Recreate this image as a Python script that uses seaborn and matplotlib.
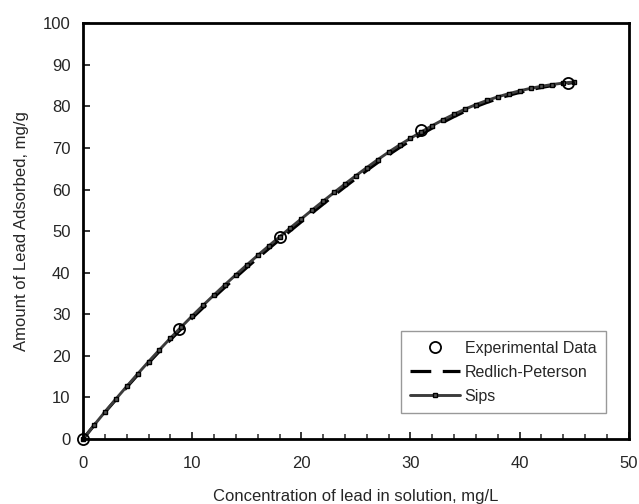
import numpy as np
import pandas as pd
import matplotlib
matplotlib.use("Agg")
import matplotlib.pyplot as plt
import seaborn as sns

#%% data
exp_conc = [0.0, 8.8, 18.0, 31.0, 44.4]
exp_q = [0.0, 26.4, 48.6, 74.4, 85.7]

model_conc = list(range(0, 46))
sips_q = [0.0, 3.3, 6.5, 9.6, 12.65, 15.65, 18.6, 21.45, 24.25, 26.95,
          29.6, 32.15, 34.65, 37.1, 39.5, 41.85, 44.15, 46.4, 48.6, 50.8,
          52.95, 55.1, 57.2, 59.28, 61.33, 63.33, 65.28, 67.18, 69.0, 70.7,
          72.32, 73.87, 75.37, 76.79, 78.11, 79.33, 80.43, 81.41, 82.28, 83.05,
          83.73, 84.33, 84.83, 85.25, 85.6, 85.88]
rp_q = [0.0, 3.25, 6.4, 9.45, 12.45, 15.4, 18.3, 21.1, 23.85, 26.5,
        29.1, 31.6, 34.1, 36.5, 38.9, 41.25, 43.5, 45.75, 47.95, 50.1,
        52.25, 54.4, 56.5, 58.6, 60.65, 62.65, 64.6, 66.5, 68.35, 70.1,
        71.75, 73.3, 74.8, 76.2, 77.55, 78.8, 79.95, 80.95, 81.85, 82.65,
        83.35, 84.0, 84.55, 85.0, 85.4, 85.75]

#%% style
sns.set_style("white")
plt.rcParams['font.family'] = ['Liberation Sans', 'DejaVu Sans']
plt.rcParams['font.size'] = 12

fig = plt.figure(figsize=(6.39, 5.04), dpi=100)
ax = fig.add_axes([0.130, 0.129, 0.854, 0.825])

sns.lineplot(x=model_conc, y=rp_q, ax=ax, color='black', linewidth=2.3,
             linestyle='--', label='Redlich-Peterson', clip_on=False)
ax.get_lines()[-1].set_dashes([6.5, 3.6])
rp_line = ax.get_lines()[-1]

sns.lineplot(x=model_conc, y=sips_q, ax=ax, color='#3c3c3c', linewidth=2.1,
             marker='s', markersize=3.4, markerfacecolor='#555555',
             markeredgecolor='black', markeredgewidth=1.0,
             label='Sips', clip_on=False)
sips_line = ax.get_lines()[-1]

sns.lineplot(x=exp_conc, y=exp_q, ax=ax, linestyle='', marker='o',
             markersize=8, markerfacecolor='none', markeredgecolor='black',
             markeredgewidth=1.3, label='Experimental Data', clip_on=False)
exp_line = ax.get_lines()[-1]
exp_line.set_zorder(5)

#%% axes
ax.set_xlim(0, 50)
ax.set_ylim(0, 100)
ax.set_xticks(np.arange(0, 51, 10))
ax.set_xticks(np.arange(0, 51, 2), minor=True)
ax.set_yticks(np.arange(0, 101, 10))
for s in ax.spines.values():
    s.set_linewidth(2.0)
    s.set_color('black')
ax.tick_params(axis='x', which='major', direction='in', length=5, width=1.3,
               pad=12, labelsize=12, bottom=True, top=False)
ax.tick_params(axis='x', which='minor', direction='in', length=3.5, width=1.1,
               bottom=True, top=False)
ax.tick_params(axis='y', which='major', direction='in', length=5, width=1.3,
               pad=9, labelsize=12, left=True, right=False)

ax.set_xlabel('Concentration of lead in solution, mg/L', fontsize=12, labelpad=13)
ax.set_ylabel('Amount of Lead Adsorbed, mg/g', fontsize=12, labelpad=10)

leg = ax.legend([exp_line, rp_line, sips_line],
                ['Experimental Data', 'Redlich-Peterson', 'Sips'],
                loc='lower left', bbox_to_anchor=(0.582, 0.062),
                fontsize=11.5, frameon=True, fancybox=False, shadow=False,
                handlelength=3.1, handletextpad=0.3, borderpad=0.6,
                labelspacing=0.55, borderaxespad=0)
leg.get_frame().set_edgecolor('#808080')
leg.get_frame().set_linewidth(1.0)

fig.savefig('out.png', dpi=100)
